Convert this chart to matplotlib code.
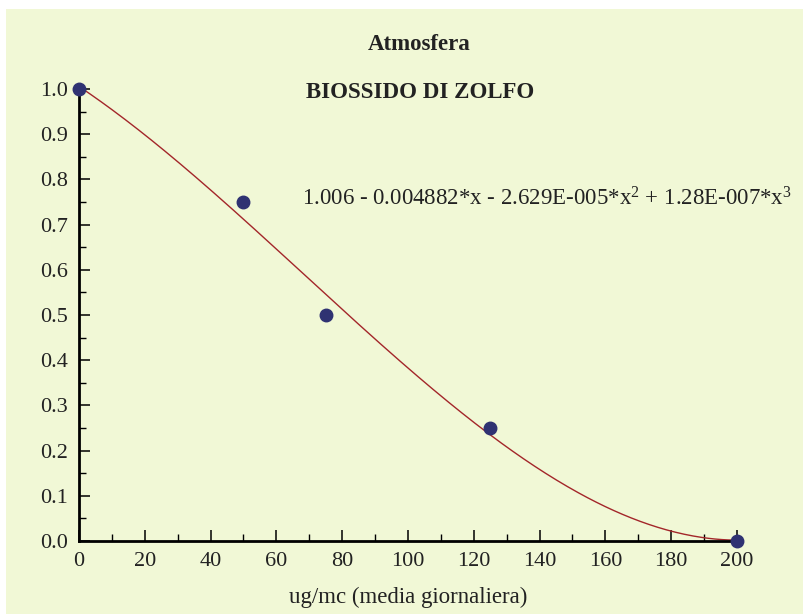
import numpy as np
import matplotlib
matplotlib.use("Agg")
import matplotlib.pyplot as plt
from matplotlib.patches import Rectangle
from matplotlib.ticker import MultipleLocator

# punti misurati
conc = [0, 50, 75, 125, 200]
indice = [1.0, 0.75, 0.5, 0.25, 0.0]

xticks = [0, 20, 40, 60, 80, 100, 120, 140, 160, 180, 200]
yticks = [0.0, 0.1, 0.2, 0.3, 0.4, 0.5, 0.6, 0.7, 0.8, 0.9, 1.0]

titolo = "Atmosfera"
sottotitolo = "BIOSSIDO DI ZOLFO"
xlabel = "ug/mc (media giornaliera)"
equazione = r"1.006 - 0.004882*x - 2.629E-005*x$^{2}$ + 1.28E-007*x$^{3}$"

plt.rcParams['font.family'] = ['Liberation Serif', 'DejaVu Serif']
plt.rcParams['mathtext.fontset'] = 'custom'
plt.rcParams['mathtext.rm'] = 'Liberation Serif'
plt.rcParams['mathtext.it'] = 'Liberation Serif'

bg = '#f1f8d6'
testo = '#222222'
fs = 16.5

fig = plt.figure(figsize=(8.04, 6.14), dpi=100)
fig.patch.set_facecolor('white')
fig.patches.append(Rectangle((6 / 804, 0), 1, 1 - 9 / 614, transform=fig.transFigure,
                             facecolor=bg, edgecolor='none', zorder=-5))

ax = fig.add_axes([79 / 804, 1 - 541 / 614, (737 - 79) / 804, (541 - 89) / 614])
ax.set_facecolor('none')
ax.set_zorder(2)

# curva cubica di regressione
coef = np.polyfit(conc, indice, 3)
xs = np.linspace(0, 200, 300)
ax.plot(xs, np.polyval(coef, xs), color='#a3262a', lw=1.0, zorder=2)
ax.plot(conc, indice, 'o', color='#2f3272', markersize=9, clip_on=False, zorder=3)

ax.set_xlim(0, 200)
ax.set_ylim(0, 1)
ax.set_xticks(xticks)
ax.set_yticks(yticks)
ax.set_yticklabels([f"{v:.1f}" for v in yticks])
ax.xaxis.set_minor_locator(MultipleLocator(10))
ax.yaxis.set_minor_locator(MultipleLocator(0.05))
ax.tick_params(which='major', direction='in', length=8, width=1.1, labelsize=16,
               labelcolor=testo)
ax.tick_params(axis='y', which='major', pad=8)
ax.tick_params(axis='x', which='major', pad=8)
ax.tick_params(which='minor', direction='in', length=5, width=1.0)

for s in ['top', 'right']:
    ax.spines[s].set_visible(False)
for s in ['left', 'bottom']:
    ax.spines[s].set_linewidth(2)

ax.set_xlabel(xlabel, fontsize=fs, color=testo, labelpad=11)

fig.text(419 / 804, 1 - 45 / 614, titolo, ha='center', va='center',
         fontsize=fs, fontweight='bold', color=testo)
fig.text(420 / 804, 1 - 92 / 614, sottotitolo, ha='center', va='center',
         fontsize=fs, fontweight='bold', color=testo)
fig.text(302 / 804, 1 - 199 / 614, equazione, ha='left', va='center',
         fontsize=fs, color=testo)

fig.savefig('out.png', dpi=100, facecolor=fig.get_facecolor())
